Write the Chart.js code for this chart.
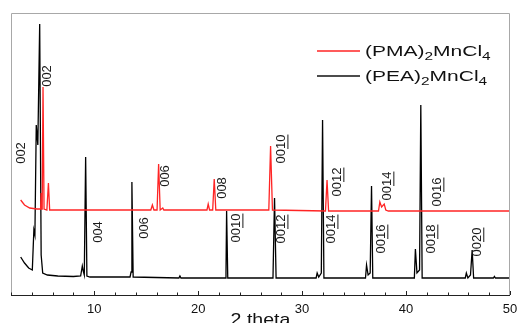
<!DOCTYPE html>
<html>
<head>
<meta charset="utf-8">
<script src="https://cdn.jsdelivr.net/npm/chart.js@4.4.1/dist/chart.umd.min.js"></script>
<style>
  html, body { margin: 0; padding: 0; background: #fff; }
  #wrap { width: 517px; height: 323px; }
</style>
</head>
<body>
<div id="wrap"><canvas id="xrd"></canvas></div>
<script>
// 2 theta (deg) y cuentas relativas
const pmaTheta = [2.93, 3.3, 3.8, 4.5, 4.85, 4.9, 4.95, 5.0, 5.08, 5.18, 5.45, 5.6, 5.72, 6.5, 10, 15.45, 15.6, 15.75, 16.05, 16.2, 16.35, 16.6, 16.7, 16.8, 20.85, 20.97, 21.1, 21.4, 21.55, 21.7, 26.8, 26.97, 27.15, 32.25, 32.4, 32.55, 37.35, 37.48, 37.65, 37.9, 38.05, 38.3, 50];
const pmaCounts = [95, 90, 87, 86, 86, 102, 86, 86, 208, 86, 85, 112, 85, 85, 85, 85, 90, 85, 85, 131, 85, 87, 85, 85, 85, 91, 85, 85, 116, 85, 85, 149, 85, 84, 115, 84, 84, 93, 88, 91, 85, 84, 84];

const peaTheta = [2.93, 3.3, 3.7, 4.05, 4.2, 4.3, 4.43, 4.58, 4.76, 4.9, 5.05, 5.5, 6.5, 8.0, 8.7, 8.86, 8.95, 9.05, 9.18, 9.3, 9.6, 13.45, 13.55, 13.63, 13.75, 18.15, 18.25, 18.35, 22.6, 22.68, 22.74, 22.85, 27.2, 27.35, 27.5, 31.35, 31.45, 31.6, 31.85, 31.97, 32.1, 36.1, 36.2, 36.35, 36.55, 36.68, 36.8, 40.8, 40.9, 41.05, 41.3, 41.42, 41.55, 45.7, 45.8, 45.95, 46.2, 46.36, 46.5, 48.4, 48.5, 48.6, 50];
const peaCounts = [38, 32, 27, 25, 65, 60, 170, 150, 271, 40, 22, 20, 19, 18.5, 19, 29, 24, 20, 138, 19, 18, 18, 23, 113, 18, 17, 19, 17, 17, 22, 84, 17, 17, 97, 17, 17, 22, 18, 22, 175, 17, 17, 30, 20, 22, 109, 17, 17, 46, 22, 25, 190, 17, 17, 22, 17, 20, 45, 17, 17, 18.5, 17, 17];

// indices (00l) de cada pico
const pmaHkl = ['002', '006', '008', '0010', '0012', '0014', '0016'];
const pmaHklTheta = [5.46, 16.9, 22.29, 28.06, 33.44, 38.25, 43.06];
const pmaHklY = [219, 119, 107, 146, 113, 109, 103];

const peaHkl = ['002', '004', '006', '0010', '0012', '0014', '0016', '0018', '0020'];
const peaHklTheta = [2.96, 10.37, 14.79, 23.73, 28.06, 32.87, 37.67, 42.48, 46.9];
const peaHklY = [142, 63, 67, 67, 66, 66, 56, 56, 53];

const xTicks = [10, 20, 30, 40, 50];

function puntos(xs, ys) {
    return xs.map((x, i) => ({ x: x, y: ys[i] }));
}

// texto con subindices, escalado en horizontal
function textoSub(ctx, partes, x, y, size, sx) {
    ctx.save();
    ctx.scale(sx, 1);
    let cx = x / sx;
    partes.forEach(p => {
        const sub = p[1];
        ctx.font = (sub ? Math.round(size * 0.72) : size) + 'px "Liberation Sans", Arial, sans-serif';
        ctx.textBaseline = 'middle';
        ctx.fillText(p[0], cx, sub ? y + size * 0.33 : y);
        cx += ctx.measureText(p[0]).width;
    });
    ctx.restore();
}

const extras = {
    id: 'extras',
    afterDraw(chart) {
        const ctx = chart.ctx;
        const a = chart.chartArea;
        const xs = chart.scales.x;
        const ys = chart.scales.y;

        // marco gris
        ctx.save();
        ctx.strokeStyle = '#a8a8a8';
        ctx.lineWidth = 1;
        ctx.beginPath();
        ctx.moveTo(a.left + 0.5, a.bottom);
        ctx.lineTo(a.left + 0.5, a.top + 0.5);
        ctx.lineTo(a.right - 0.5, a.top + 0.5);
        ctx.lineTo(a.right - 0.5, a.bottom);
        ctx.stroke();

        // eje inferior y marcas hacia dentro
        ctx.strokeStyle = '#222';
        ctx.beginPath();
        ctx.moveTo(a.left, a.bottom + 0.5);
        ctx.lineTo(a.right, a.bottom + 0.5);
        for (let t = 2; t <= 50; t += 2) {
            const px = Math.round(xs.getPixelForValue(t)) + 0.5;
            const len = t % 10 === 0 ? 4 : 2.5;
            ctx.moveTo(px, a.bottom);
            ctx.lineTo(px, a.bottom - len);
        }
        ctx.stroke();

        // etiquetas de los picos
        ctx.fillStyle = '#1a1a1a';
        ctx.strokeStyle = '#1a1a1a';
        const dibujar = (txt, th, yv) => {
            const px = xs.getPixelForValue(th);
            const py = ys.getPixelForValue(yv);
            ctx.save();
            ctx.translate(px, py);
            ctx.rotate(-Math.PI / 2);
            ctx.font = '13px "Liberation Sans", Arial, sans-serif';
            ctx.textAlign = 'center';
            ctx.textBaseline = 'middle';
            ctx.fillText(txt, 0, 0);
            if (txt.length === 4) {
                const w = ctx.measureText(txt).width;
                const w2 = ctx.measureText(txt.slice(2)).width;
                ctx.lineWidth = 1;
                ctx.beginPath();
                ctx.moveTo(w / 2 - w2, 6);
                ctx.lineTo(w / 2, 6);
                ctx.stroke();
            }
            ctx.restore();
        };
        pmaHkl.forEach((t, i) => dibujar(t, pmaHklTheta[i], pmaHklY[i]));
        peaHkl.forEach((t, i) => dibujar(t, peaHklTheta[i], peaHklY[i]));

        // leyenda
        const lx = a.right - 193;
        const filas = [
            { color: '#ff2424', y: a.top + 38, partes: [['(PMA)', false], ['2', true], ['MnCl', false], ['4', true]] },
            { color: '#111', y: a.top + 63, partes: [['(PEA)', false], ['2', true], ['MnCl', false], ['4', true]] }
        ];
        filas.forEach(f => {
            ctx.strokeStyle = f.color;
            ctx.lineWidth = 1.5;
            ctx.beginPath();
            ctx.moveTo(lx, f.y);
            ctx.lineTo(lx + 43, f.y);
            ctx.stroke();
            ctx.fillStyle = '#111';
            textoSub(ctx, f.partes, lx + 48, f.y + 1, 15, 1.4);
        });

        // titulo del eje x
        ctx.save();
        ctx.fillStyle = '#111';
        ctx.font = '17px "Liberation Sans", Arial, sans-serif';
        ctx.textAlign = 'center';
        ctx.textBaseline = 'alphabetic';
        const cx = (a.left + a.right) / 2;
        ctx.scale(1.15, 1);
        ctx.fillText('2 theta', cx / 1.15, a.bottom + 30);
        ctx.restore();

        ctx.restore();
    }
};

const ctx = document.getElementById('xrd').getContext('2d');
const grafico = new Chart(ctx, {
    type: 'line',
    data: {
        datasets: [{
            label: '(PMA)2MnCl4',
            data: puntos(pmaTheta, pmaCounts),
            borderColor: '#ff2424',
            borderWidth: 1.3,
            pointRadius: 0,
            tension: 0
        }, {
            label: '(PEA)2MnCl4',
            data: puntos(peaTheta, peaCounts),
            borderColor: '#000',
            borderWidth: 1.3,
            pointRadius: 0,
            tension: 0
        }]
    },
    options: {
        responsive: true,
        maintainAspectRatio: false,
        animation: false,
        layout: { padding: { left: 11, right: 7, top: 13, bottom: 0 } },
        plugins: { legend: { display: false }, tooltip: { enabled: false } },
        scales: {
            x: {
                type: 'linear',
                min: 2,
                max: 50,
                afterBuildTicks: s => { s.ticks = xTicks.map(v => ({ value: v })); },
                afterFit: s => { s.paddingLeft = 0; s.paddingRight = 0; s.height = 28; },
                grid: { display: false, drawTicks: false },
                border: { display: false },
                ticks: {
                    padding: 7,
                    maxRotation: 0,
                    autoSkip: false,
                    color: '#111',
                    font: { family: '"Liberation Sans", Arial, sans-serif', size: 13 }
                }
            },
            y: {
                min: 0,
                max: 282,
                display: false
            }
        }
    },
    plugins: [extras]
});
</script>
</body>
</html>
